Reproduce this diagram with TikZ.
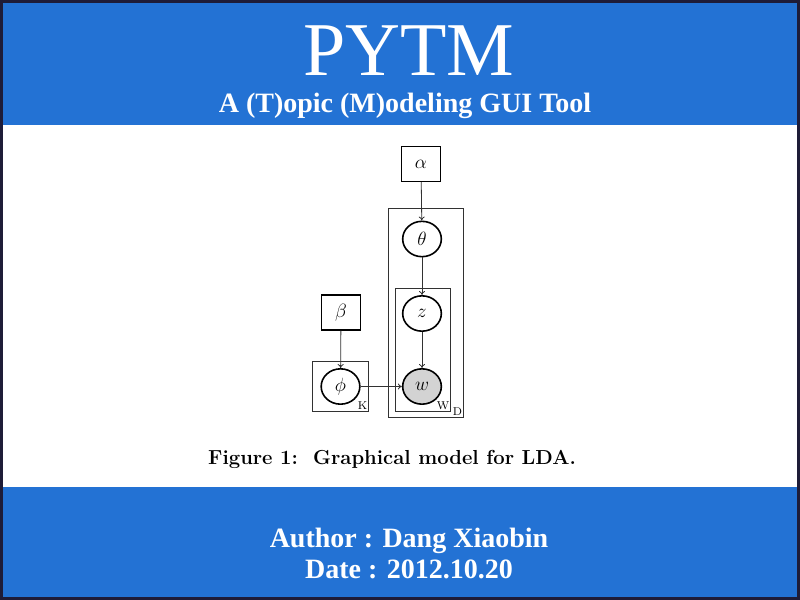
\documentclass[tikz,border=0pt]{standalone}
\usepackage{fontspec}
\setmainfont{Liberation Serif}
\newfontfamily\lmfont{Latin Modern Roman}
\usetikzlibrary{shapes.geometric,arrows.meta}
\definecolor{bandblue}{RGB}{35,114,212}
\definecolor{frame}{RGB}{30,28,56}
\definecolor{obsgray}{RGB}{211,211,211}
\definecolor{platec}{RGB}{50,50,50}
\tikzset{
  var/.style={ellipse,draw=black,line width=1.2pt,minimum width=29pt,minimum height=26.5pt,inner sep=0pt,font=\fontsize{15}{15}\selectfont},
  hyper/.style={rectangle,draw=black,line width=1.2pt,minimum width=29pt,minimum height=26pt,inner sep=0pt,font=\fontsize{15}{15}\selectfont},
  plate/.style={draw=platec,line width=0.6pt},
  edge/.style={draw=platec,line width=0.6pt,-{To[length=3pt,width=4.5pt]}},
  platelabel/.style={inner sep=0pt,font=\lmfont\fontsize{8.5}{8.5}\selectfont},
  bandtext/.style={text=white,inner sep=0pt},
}
\begin{document}
\begin{tikzpicture}[x=0.75pt,y=-0.75pt]
\useasboundingbox (0,0) rectangle (800,600);
\fill[frame] (0,0) rectangle (800,600);
\fill[bandblue] (3,3) rectangle (797,125);
\fill[white] (3,125) rectangle (797,487);
\fill[bandblue] (3,487) rectangle (797,597);
% title
\node[bandtext,font=\fontsize{57}{57}\selectfont] (title) at (409,51) {PYTM};
\node[bandtext,font=\bfseries\fontsize{21}{21}\selectfont] (subtitle) at (405,106) {A (T)opic (M)odeling GUI Tool};
% plates
\draw[plate] (388.5,208.5) rectangle (463.5,417.5);
\draw[plate] (395.5,288.5) rectangle (450.5,411.5);
\draw[plate] (312.5,361.5) rectangle (368.5,411.5);
% nodes
\node[hyper] (alpha) at (421,164) {$\alpha$};
\node[var] (theta) at (422,239) {$\theta$};
\node[var] (z) at (422,313.5) {$z$};
\node[var,fill=obsgray] (w) at (422,386.5) {$w$};
\node[hyper] (beta) at (341,312.5) {$\beta$};
\node[var] (phi) at (340.5,386.5) {$\phi$};
% plate labels
\node[platelabel] (K) at (362.5,406) {K};
\node[platelabel] (W) at (443,405.5) {W};
\node[platelabel] (D) at (457.5,412) {D};
% edges
\draw[edge] (alpha) -- (theta);
\draw[edge] (theta) -- (z);
\draw[edge] (z) -- (w);
\draw[edge] (beta) -- (phi);
\draw[edge] (phi) -- (w);
% caption
\node[inner sep=0pt,font=\lmfont\bfseries\fontsize{15.2}{15.2}\selectfont] (caption) at (392,459) {Figure 1:\ \ Graphical model for LDA.};
% footer
\node[bandtext,font=\bfseries\fontsize{21}{21}\selectfont] (author) at (409,541) {Author : Dang Xiaobin};
\node[bandtext,font=\bfseries\fontsize{21}{21}\selectfont] (date) at (409,569) {Date : 2012.10.20};
\end{tikzpicture}
\end{document}
